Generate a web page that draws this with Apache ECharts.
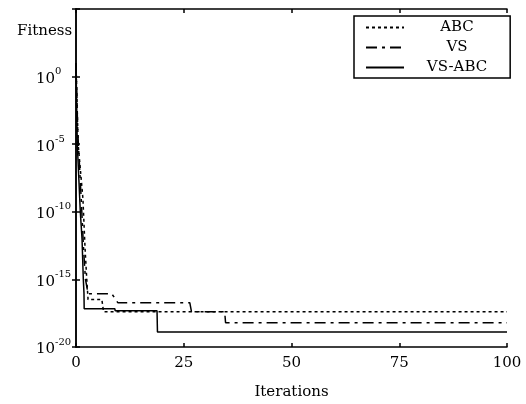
<!DOCTYPE html>
<html>
<head>
<meta charset="utf-8">
<script src="https://cdn.jsdelivr.net/npm/echarts@6/dist/echarts.min.js"></script>
<style>
  html, body { margin: 0; padding: 0; background: #fff; }
  #chart { width: 526px; height: 404px; }
</style>
</head>
<body>
<div id="chart"></div>
<script>
// x ticks
const xTicks = [0, 25, 50, 75, 100]

// ABC (dotted)
const abcIter = [0, 0.5, 1.6, 2.1, 2.5, 2.8, 6, 6.4, 100]
const abcFit = [10, 1e-5, 1e-9, 2e-13, 1e-15, 3.2e-17, 3.2e-17, 4e-18, 4e-18]

// VS (dash-dot)
const vsIter = [0, 0.4, 1.2, 1.8, 2.2, 2.8, 8.3, 9.7, 26.4, 26.8, 34.5, 34.7, 100]
const vsFit = [10, 1e-4, 1e-9, 1e-13, 1e-15, 8.7e-17, 8.7e-17, 1.9e-17, 1.9e-17, 4e-18, 4e-18, 6.3e-19, 6.3e-19]

// VS-ABC (solid)
const vsabcIter = [0, 0.3, 1.0, 1.4, 1.7, 1.85, 1.9, 9, 9.1, 18.8, 18.9, 100]
const vsabcFit = [10, 1e-5, 1e-10, 1e-12, 1e-15, 1e-16, 6.8e-18, 6.8e-18, 4.8e-18, 4.8e-18, 1.3e-19, 1.3e-19]

const FONT = 'DejaVu Serif'

function pairs (xs, ys) {
  return xs.map((x, i) => [x, ys[i]])
}

let chart = echarts.init(document.getElementById('chart'))

const xCommon = {
  type: 'value',
  min: xTicks[0],
  max: xTicks[xTicks.length - 1],
  interval: 25,
  axisLine: { lineStyle: { color: '#000', width: 1.5 } },
  axisTick: { inside: true, length: 4, lineStyle: { color: '#000', width: 1.5 } },
  splitLine: { show: false }
}
const yCommon = {
  type: 'log',
  logBase: 10,
  min: 1e-20,
  max: 1e5,
  interval: 5,
  axisLine: { show: true, lineStyle: { color: '#000', width: 1.5 } },
  axisTick: { show: true, inside: true, length: 4, lineStyle: { color: '#000', width: 1.5 } },
  splitLine: { show: false }
}

chart.setOption({
  animation: false,
  backgroundColor: '#fff',
  title: {
    text: 'Fitness',
    left: 12,
    top: 19,
    textStyle: { fontFamily: FONT, fontSize: 15, fontWeight: 'normal', color: '#000' }
  },
  grid: { left: 76, right: 19, top: 9, bottom: 57, outerBoundsMode: 'none' },
  legend: {
    orient: 'vertical',
    left: 354,
    top: 16,
    padding: [4, 23, 3, 11],
    itemGap: 5,
    itemWidth: 38,
    itemHeight: 14,
    backgroundColor: '#fff',
    borderColor: '#000',
    borderWidth: 1.5,
    borderRadius: 0,
    itemStyle: { color: 'transparent', borderColor: 'transparent', borderWidth: 0 },
    data: ['ABC', 'VS', 'VS-ABC'],
    formatter: name => '{c|' + name + '}',
    textStyle: {
      rich: {
        c: { width: 96, align: 'center', fontFamily: FONT, fontSize: 15, color: '#000' }
      }
    }
  },
  xAxis: [
    Object.assign({}, xCommon, {
      position: 'bottom',
      name: 'Iterations',
      nameLocation: 'middle',
      nameGap: 38,
      nameTextStyle: { fontFamily: FONT, fontSize: 15, color: '#000' },
      axisLabel: { margin: 9, fontFamily: FONT, fontSize: 15, color: '#000' }
    }),
    Object.assign({}, xCommon, {
      position: 'top',
      axisLabel: { show: false }
    })
  ],
  yAxis: [
    Object.assign({}, yCommon, {
      position: 'left',
      axisLabel: {
        align: 'left',
        margin: 40,
        formatter: v => {
          const e = Math.round(Math.log10(v))
          if (e > 0) return ''
          return '{b|10}{s|' + e + '}'
        },
        rich: {
          b: { fontFamily: FONT, fontSize: 15, color: '#000', verticalAlign: 'bottom', lineHeight: 20 },
          s: { fontFamily: FONT, fontSize: 10, color: '#000', verticalAlign: 'top' }
        }
      }
    }),
    Object.assign({}, yCommon, {
      position: 'right',
      axisLabel: { show: false }
    })
  ],
  series: [
    {
      name: 'ABC',
      type: 'line',
      symbol: 'none',
      data: pairs(abcIter, abcFit),
      lineStyle: { color: '#000', width: 1.5, type: [3, 3] },
      itemStyle: { color: '#000' }
    },
    {
      name: 'VS',
      type: 'line',
      symbol: 'none',
      data: pairs(vsIter, vsFit),
      lineStyle: { color: '#000', width: 1.5, type: [11, 5, 3, 5] },
      itemStyle: { color: '#000' }
    },
    {
      name: 'VS-ABC',
      type: 'line',
      symbol: 'none',
      data: pairs(vsabcIter, vsabcFit),
      lineStyle: { color: '#000', width: 1.5, type: 'solid' },
      itemStyle: { color: '#000' }
    }
  ]
})
</script>
</body>
</html>
